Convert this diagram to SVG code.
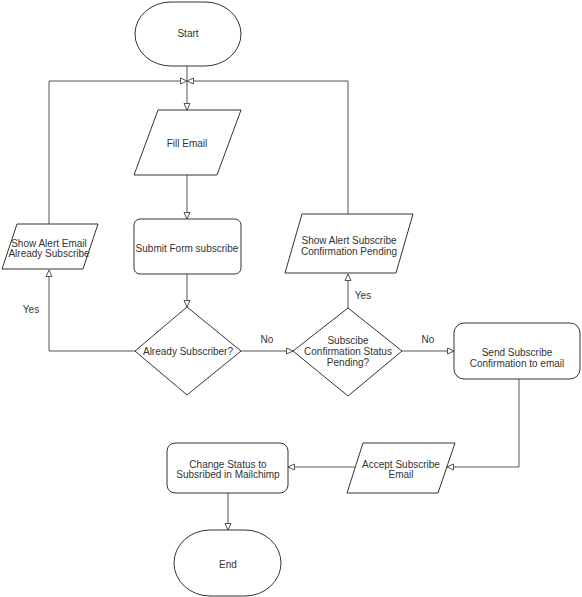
<svg xmlns="http://www.w3.org/2000/svg" width="582" height="597" viewBox="0 0 582 597">
<defs>
<style>
.s{fill:#fff;stroke:#333;stroke-width:1}
.c{fill:none;stroke:#555;stroke-width:1}
text{font-family:"Liberation Sans",Arial,sans-serif;font-size:10px;fill:#333;text-anchor:middle}
</style>
<marker id="a" markerUnits="userSpaceOnUse" markerWidth="9" markerHeight="9" refX="7" refY="4" orient="auto">
<path d="M0.5,1 L7,4 L0.5,7 Z" fill="#fff" stroke="#555" stroke-width="1"/>
</marker>
</defs>
<rect width="582" height="597" fill="#fff"/>
<g id="connectors">
<path class="c" d="M187,66 L187,110" marker-end="url(#a)"/>
<path class="c" d="M187,175 L187,219" marker-end="url(#a)"/>
<path class="c" d="M187,274 L187,307" marker-end="url(#a)"/>
<path class="c" d="M135,351 L49,351 L49,270" marker-end="url(#a)"/>
<path class="c" d="M49,224 L49,81 L187,81" marker-end="url(#a)"/>
<path class="c" d="M241,351 L293,351" marker-end="url(#a)"/>
<path class="c" d="M348,308 L348,274" marker-end="url(#a)"/>
<path class="c" d="M348,214 L348,81 L187,81" marker-end="url(#a)"/>
<path class="c" d="M402,351 L454,351" marker-end="url(#a)"/>
<path class="c" d="M519,379 L519,467 L447,467" marker-end="url(#a)"/>
<path class="c" d="M355,467 L288,467" marker-end="url(#a)"/>
<path class="c" d="M228,493 L228,530" marker-end="url(#a)"/>
<text x="31" y="313">Yes</text>
<text x="363" y="299">Yes</text>
<text x="267" y="343">No</text>
<text x="428" y="343">No</text>
</g>
<g id="start">
<rect class="s" x="135" y="2" width="106" height="64" rx="36" ry="32"/>
<text x="188" y="36.5">Start</text>
</g>
<g id="fill-email">
<path class="s" d="M158,110 L241,110 L217,175 L134,175 Z"/>
<text x="187" y="146.5">Fill Email</text>
</g>
<g id="submit-form">
<rect class="s" x="134" y="219" width="107" height="55" rx="6"/>
<text x="187" y="251.5">Submit Form subscribe</text>
</g>
<g id="already-subscriber">
<path class="s" d="M187,307 L241,351 L187,395 L135,351 Z"/>
<text x="188" y="354.5">Already Subscriber?</text>
</g>
<g id="show-alert-email">
<path class="s" d="M17,224 L98,224 L83,269 L2,269 Z"/>
<text x="49" y="246.5">Show Alert Email</text>
<text x="49" y="256.5">Already Subscribe</text>
</g>
<g id="pending">
<path class="s" d="M348,308 L402,351 L348,396 L293,351 Z"/>
<text x="348" y="343.5">Subscibe</text>
<text x="348" y="354.5">Confirmation Status</text>
<text x="348" y="365.5">Pending?</text>
</g>
<g id="show-alert-pending">
<path class="s" d="M302,214 L413,214 L396,273 L285,273 Z"/>
<text x="349" y="243.5">Show Alert Subscribe</text>
<text x="349" y="254.5">Confirmation Pending</text>
</g>
<g id="send-confirmation">
<rect class="s" x="454" y="323" width="126" height="56" rx="10"/>
<text x="517" y="356">Send Subscribe</text>
<text x="517" y="367">Confirmation to email</text>
</g>
<g id="accept">
<path class="s" d="M363,443 L455,443 L438,493 L347,493 Z"/>
<text x="401" y="467.5">Accept Subscribe</text>
<text x="401" y="477.5">Email</text>
</g>
<g id="change-status">
<rect class="s" x="167" y="443" width="121" height="50" rx="8"/>
<text x="228" y="467.5">Change Status to</text>
<text x="228" y="477.5">Subsribed in Mailchimp</text>
</g>
<g id="end">
<rect class="s" x="174" y="530" width="107" height="66" rx="36" ry="33"/>
<text x="228" y="567.5">End</text>
</g>
</svg>
